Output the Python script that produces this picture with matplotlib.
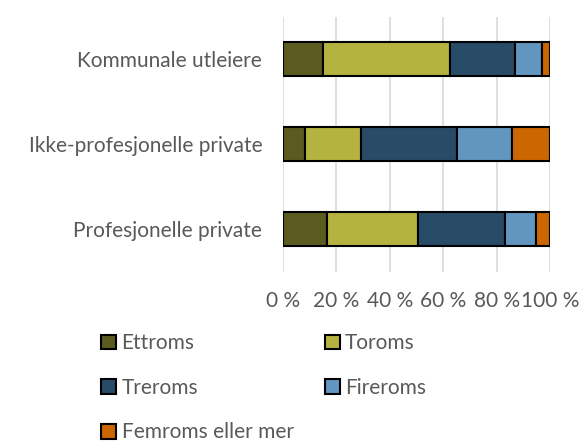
import matplotlib.pyplot as plt
from matplotlib.patches import Patch

plt.rcParams['font.family'] = ['Lato', 'DejaVu Sans']

categories = ['Profesjonelle private', 'Ikke-profesjonelle private', 'Kommunale utleiere']
series = ['Ettroms', 'Toroms', 'Treroms', 'Fireroms', 'Femroms eller mer']
values = {
    'Ettroms':           [16.5, 8.2, 15.0],
    'Toroms':            [33.9, 21.0, 47.4],
    'Treroms':           [32.6, 36.0, 24.4],
    'Fireroms':          [11.6, 20.4, 10.1],
    'Femroms eller mer': [5.4, 14.4, 3.1],
}
colors = ['#5b5a1f', '#b5b33f', '#284b68', '#6295c0', '#cc6600']
ticks = [0, 20, 40, 60, 80, 100]

fig = plt.figure(figsize=(5.82, 4.41), dpi=100)
ax = fig.add_axes([283 / 582, 1 - 271.5 / 441, 267 / 582, 255 / 441])

left = [0, 0, 0]
for name, col in zip(series, colors):
    ax.barh(range(len(categories)), values[name], left=left, height=0.39,
            color=col, edgecolor='black', linewidth=1.5, zorder=3)
    left = [a + b for a, b in zip(left, values[name])]

ax.set_xlim(0, 100)
ax.set_ylim(-0.5, 2.5)
ax.set_xticks(ticks)
ax.set_xticklabels([f'{t} %' for t in ticks])
ax.set_yticks(range(len(categories)))
ax.set_yticklabels(categories)
ax.tick_params(length=0, labelsize=15, colors='#595959', pad=15)
ax.tick_params(axis='x', pad=14)
ax.grid(axis='x', color='#d9d9d9', linewidth=1.2, zorder=0)
for s in ax.spines.values():
    s.set_visible(False)

handles = [Patch(facecolor=c, edgecolor='black', linewidth=1.5, label=n)
           for n, c in zip(series, colors)]
order = [0, 2, 4, 1, 3]
fig.legend([handles[i] for i in order], [series[i] for i in order],
           ncol=2, loc='upper left', bbox_to_anchor=(93 / 582, 1 - 325 / 441),
           frameon=False, fontsize=15, labelcolor='#595959',
           handlelength=0.72, handleheight=0.72, handletextpad=0.25,
           labelspacing=1.18, columnspacing=1.5, borderaxespad=0)

fig.savefig('out.png', dpi=100)
